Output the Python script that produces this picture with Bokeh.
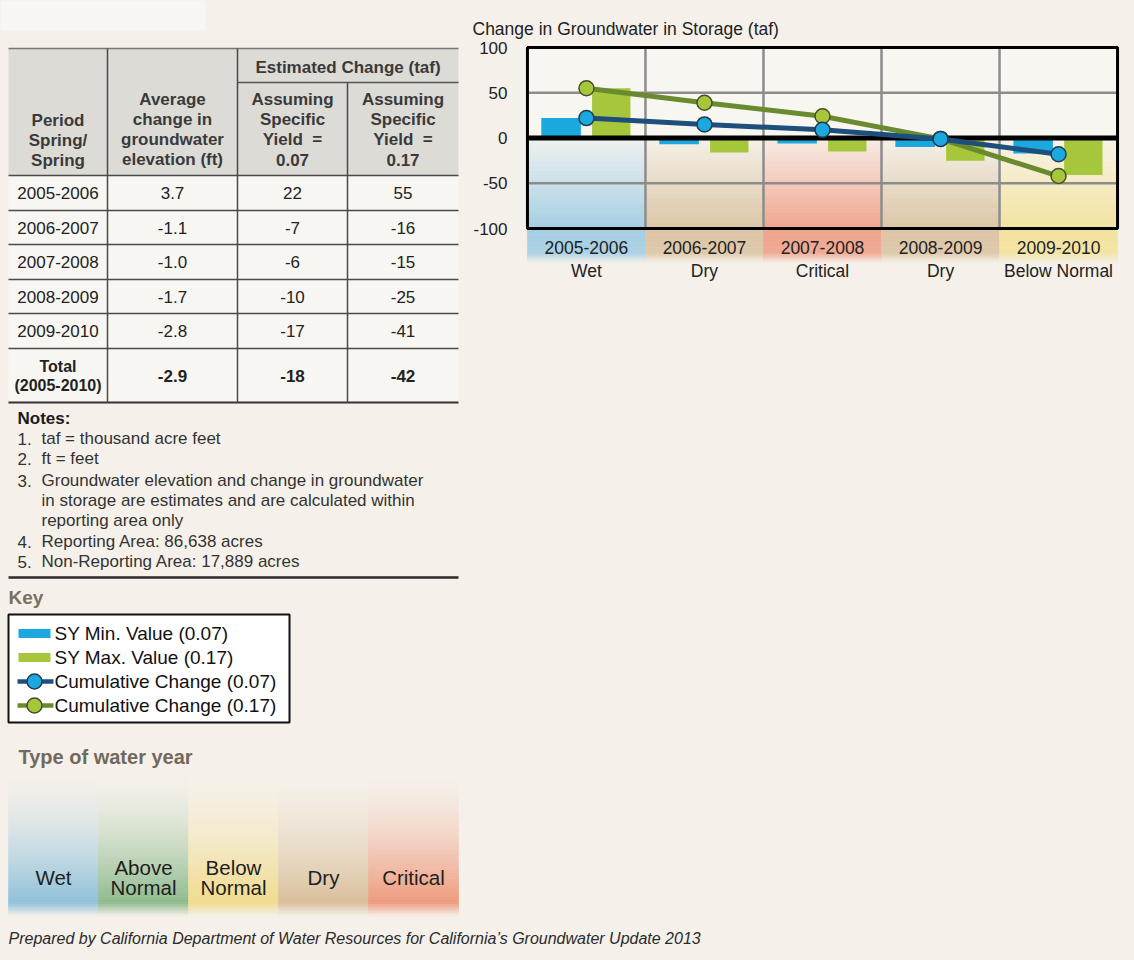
import numpy as np
from bokeh.plotting import figure
from bokeh.models import Range1d, FactorRange, FixedTicker, ColumnDataSource
from bokeh.layouts import row, column
from bokeh.transform import dodge
from bokeh.core.properties import value
from bokeh.embed import file_html
from bokeh.resources import INLINE

# ---------------- data ----------------
periods = ["2005-2006", "2006-2007", "2007-2008", "2008-2009", "2009-2010"]
year_types = ["Wet", "Dry", "Critical", "Dry", "Below Normal"]
elev_change_ft = [3.7, -1.1, -1.0, -1.7, -2.8]
sy_min_taf = [22, -7, -6, -10, -17]
sy_max_taf = [55, -16, -15, -25, -41]
cum_min_taf = [22, 15, 9, -1, -18]
cum_max_taf = [55, 39, 24, -1, -42]
total_period = ["Total", "(2005-2010)"]
total_values = ["-2.9", "-18", "-42"]
y_ticks = [-100, -50, 0, 50, 100]
y_tick_labels = {-100: "-100", -50: "-50", 0: "0", 50: "50", 100: "100"}
header_cells = [
    ["Period", "Spring/", "Spring"],
    ["Average", "change in", "groundwater", "elevation (ft)"],
    ["Assuming", "Specific", "Yield\u00a0\u00a0=", "0.07"],
    ["Assuming", "Specific", "Yield\u00a0\u00a0=", "0.17"],
]
header_group = "Estimated Change (taf)"
notes_title = "Notes:"
notes = [
    ("1.", "taf = thousand acre feet"),
    ("2.", "ft = feet"),
    ("3.", "Groundwater elevation and change in groundwater"),
    ("", "in storage are estimates and are calculated within"),
    ("", "reporting area only"),
    ("4.", "Reporting Area: 86,638 acres"),
    ("5.", "Non-Reporting Area: 17,889 acres"),
]
key_labels = ["SY Min. Value (0.07)", "SY Max. Value (0.17)",
              "Cumulative Change (0.07)", "Cumulative Change (0.17)"]
water_year_types = ["Wet", "Above Normal", "Below Normal", "Dry", "Critical"]
chart_title = "Change in Groundwater in Storage (taf)"
footer = "Prepared by California Department of Water Resources for California\u2019s Groundwater Update 2013"

# ---------------- style ----------------
BG = "#f5f1ea"
LIGHT = "#f8f6f1"
BLUE = "#1ba8de"
GREEN = "#a6c63c"
NAVY = "#1e4f7c"
OLIVE = "#6a8a2f"
SANS = "Liberation Sans"
type_colors = {"Wet": "#8fc0db", "Above Normal": "#8dba8d", "Below Normal": "#f1db8c",
               "Dry": "#d9bf9a", "Critical": "#ee997c"}
chart_type_colors = {"Wet": "#a5cfe4", "Dry": "#dcc6a6", "Critical": "#f0a48e",
                     "Below Normal": "#f3e3a0"}


def hex2rgb(h):
    h = h.lstrip("#")
    return tuple(int(h[i:i + 2], 16) for i in (0, 2, 4))


def mix(c1, c2, t):
    a, b = hex2rgb(c1), hex2rgb(c2)
    t = max(0.0, min(1.0, t))
    return "#%02x%02x%02x" % tuple(int(round(a[k] + (b[k] - a[k]) * t)) for k in range(3))


def strips(left, right, y0, y1, t0, t1, base, col, n=30, gamma=1.0):
    out = dict(left=[], right=[], top=[], bottom=[], color=[])
    for k in range(n):
        ya = y0 + (y1 - y0) * k / n
        yb = y0 + (y1 - y0) * (k + 1) / n
        tm = (k + 0.5) / n
        t = t0 + (t1 - t0) * (tm ** gamma)
        out["left"].append(left)
        out["right"].append(right)
        out["top"].append(ya)
        out["bottom"].append(yb)
        out["color"].append(mix(base, col, t))
    return out


def merge(dicts):
    res = dict(left=[], right=[], top=[], bottom=[], color=[])
    for d in dicts:
        for k in res:
            res[k].extend(d[k])
    return res


def blank(fig):
    fig.axis.visible = False
    fig.grid.visible = False
    fig.outline_line_color = None
    fig.background_fill_color = BG
    fig.border_fill_color = BG


def txt(fig, x, y, s, size, style="normal", align="center", color="#222222"):
    fig.text(x=[x], y=[y], text=[s], text_align=align, text_baseline="middle",
             text_font=value(SANS), text_font_size=size, text_font_style=style,
             text_color=color)


# ================= LEFT PANEL =================
L = figure(width=466, height=920, x_range=Range1d(0, 466), y_range=Range1d(920, 0),
           output_backend="svg", toolbar_location=None, min_border=0)
blank(L)

L.quad(left=[0], right=[205], top=[0], bottom=[30], fill_color="#f8f6f2", line_color=None)

col_edges = [8, 107, 237, 347, 458]
row_edges = [175, 210, 244, 279, 313, 348, 402]
L.quad(left=[8], right=[458], top=[48], bottom=[175], fill_color="#dddbd6", line_color=None)
L.quad(left=[8], right=[458], top=[175], bottom=[402], fill_color="#f8f6f2", line_color=None)
L.segment(x0=[8], y0=[48], x1=[458], y1=[48], line_color="#777777", line_width=1.5)
L.segment(x0=[237], y0=[82], x1=[458], y1=[82], line_color="#555555", line_width=1.5)
L.segment(x0=[8] * 6, y0=row_edges[:-1], x1=[458] * 6, y1=row_edges[:-1],
          line_color="#4a4a4a", line_width=1.5)
L.segment(x0=[8], y0=[402], x1=[458], y1=[402], line_color="#333333", line_width=2)
L.segment(x0=[107, 237, 347], y0=[48, 48, 82], x1=[107, 237, 347], y1=[402, 402, 402],
          line_color="#4a4a4a", line_width=1.5)

col_centers = [(col_edges[i] + col_edges[i + 1]) / 2 for i in range(4)]
hdr_ys = {3: [120, 140, 160], 4: [99, 119, 139, 159]}
for ci, lines in enumerate(header_cells):
    ys = hdr_ys[len(lines)]
    for s, y in zip(lines, ys):
        txt(L, col_centers[ci], y, s, "17px", style="bold", color="#3a3a3a")
txt(L, (237 + 458) / 2, 67, header_group, "17px", style="bold", color="#3a3a3a")

row_centers = [(row_edges[i] + row_edges[i + 1]) / 2 for i in range(5)]
for i in range(5):
    y = row_centers[i]
    txt(L, col_centers[0], y, periods[i], "17px")
    txt(L, col_centers[1], y, f"{elev_change_ft[i]:.1f}", "17px")
    txt(L, col_centers[2], y, f"{sy_min_taf[i]}", "17px")
    txt(L, col_centers[3], y, f"{sy_max_taf[i]}", "17px")
txt(L, col_centers[0], 366, total_period[0], "16px", style="bold")
txt(L, col_centers[0], 385, total_period[1], "16px", style="bold")
for ci, v in enumerate(total_values):
    txt(L, col_centers[ci + 1], 375, v, "17px", style="bold")

# notes
txt(L, 17, 418, notes_title, "17px", style="bold", align="left", color="#1a1a1a")
note_ys = [438, 458, 480, 500, 520, 541, 561]
for (num, s), y in zip(notes, note_ys):
    if num:
        txt(L, 17, y, num, "17px", align="left", color="#333333")
    txt(L, 41, y, s, "17px", align="left", color="#333333")
L.segment(x0=[8], y0=[577], x1=[458], y1=[577], line_color="#2a2a2a", line_width=2.5)

# key
txt(L, 8, 597, "Key", "19px", style="bold", align="left", color="#7b6f60")
L.quad(left=[8], right=[289], top=[614], bottom=[722], fill_color="white",
       line_color="#111111", line_width=2)
key_ys = [633, 657, 681, 705]
L.quad(left=[18, 18], right=[50, 50], top=[key_ys[0] - 4.5, key_ys[1] - 4.5],
       bottom=[key_ys[0] + 4.5, key_ys[1] + 4.5], fill_color=[BLUE, GREEN], line_color=None)
L.segment(x0=[17, 17], y0=key_ys[2:], x1=[53, 53], y1=key_ys[2:],
          line_color=[NAVY, OLIVE], line_width=4.5)
L.scatter(x=[34, 34], y=key_ys[2:], size=15, fill_color=[BLUE, GREEN],
          line_color=["#24394d", "#44502a"], line_width=1.5)
for s, y in zip(key_labels, key_ys):
    txt(L, 54, y, s, "19px", align="left", color="#111111")

# type of water year
txt(L, 18, 756, "Type of water year", "20px", style="bold", align="left", color="#72695c")
wy_parts = []
for i, t in enumerate(water_year_types):
    x0, x1 = 8 + 90 * i, 8 + 90 * (i + 1)
    wy_parts.append(strips(x0, x1, 770, 902, 0.0, 1.0, BG, type_colors[t], n=44, gamma=1.6))
    wy_parts.append(strips(x0, x1, 902, 916, 1.0, 0.0, BG, type_colors[t], n=8))
wy = merge(wy_parts)
L.quad(left="left", right="right", top="top", bottom="bottom", fill_color="color",
       line_color="color", line_width=0.6, source=ColumnDataSource(wy))
for i, t in enumerate(water_year_types):
    xc = 8 + 90 * i + 45
    words = t.split(" ")
    if len(words) == 1:
        txt(L, xc, 877, t, "20.5px", color="#1e1e1e")
    else:
        txt(L, xc, 867, words[0], "20.5px", color="#1e1e1e")
        txt(L, xc, 887, words[1], "20.5px", color="#1e1e1e")

# ================= CHART (right column) =================
PX = 181.0 / 200.0              # pixels per taf on the value axis
FRAME_TOP, FRAME_BOT = 44, 292  # frame extent in page pixels (chart spans 47..228)
y_end = 100 + (47 - FRAME_TOP) / PX
y_start = -100 - (FRAME_BOT - 228) / PX


def below(pix):
    """value-axis coordinate that sits at page pixel row `pix` under the -100 line"""
    return -100 - (pix - 228) / PX


src = ColumnDataSource(dict(period=periods, sy_min=sy_min_taf, sy_max=sy_max_taf,
                            cum_min=cum_min_taf, cum_max=cum_max_taf))
xr = FactorRange(*periods, range_padding=0.025, range_padding_units="absolute")
p = figure(width=668, height=920, x_range=xr, y_range=Range1d(y_start, y_end),
           output_backend="svg", toolbar_location=None, title=chart_title,
           min_border_left=58, min_border_right=14, min_border_top=FRAME_TOP,
           min_border_bottom=920 - FRAME_BOT)
p.title.align = "left"
p.title.offset = -52
p.title.standoff = 11
p.title.text_font = SANS
p.title.text_font_size = "17.5px"
p.title.text_font_style = "normal"
p.title.text_color = "#222222"
p.background_fill_color = BG
p.border_fill_color = BG
p.outline_line_color = None
p.grid.visible = False
p.xaxis.visible = False
p.yaxis.ticker = FixedTicker(ticks=y_ticks)
p.yaxis.major_label_overrides = y_tick_labels
p.yaxis.axis_line_color = None
p.yaxis.major_tick_line_color = None
p.yaxis.minor_tick_line_color = None
p.yaxis.major_label_standoff = 11
p.yaxis.major_label_text_font = SANS
p.yaxis.major_label_text_font_size = "17px"
p.yaxis.major_label_text_color = "#222222"

# plot-area backgrounds: light above zero, water-year gradient below zero
p.quad(left=[0], right=[5], top=[100], bottom=[0], fill_color=LIGHT, line_color=None)
bg_parts = []
for i, t in enumerate(year_types):
    bg_parts.append(strips(i, i + 1, 0, -100, 0.1, 1.0, LIGHT, chart_type_colors[t], n=40))
    # coloured label band under the axis
    bg_parts.append(strips(i, i + 1, -100, below(253), 1.0, 0.92, BG, chart_type_colors[t], n=4))
    bg_parts.append(strips(i, i + 1, below(253), below(263), 0.92, 0.0, BG,
                           chart_type_colors[t], n=10))
bgd = merge(bg_parts)
p.quad(left="left", right="right", top="top", bottom="bottom", fill_color="color",
       line_color="color", line_width=0.6, source=ColumnDataSource(bgd))

# grid
p.segment(x0=[0, 0], y0=[-50, 50], x1=[5, 5], y1=[-50, 50], line_color="#8c8c8c", line_width=2.5)
p.segment(x0=[1, 2, 3, 4], y0=[-100] * 4, x1=[1, 2, 3, 4], y1=[100] * 4,
          line_color="#8c8c8c", line_width=2.5)

# bars
p.vbar(x=dodge("period", -0.215, range=xr), top="sy_min", bottom=0, width=0.335,
       fill_color=BLUE, line_color=None, source=src)
p.vbar(x=dodge("period", 0.21, range=xr), top="sy_max", bottom=0, width=0.325,
       fill_color=GREEN, line_color=None, source=src)

# zero line and chart border
p.segment(x0=[0], y0=[0], x1=[5], y1=[0], line_color="#000000", line_width=5)
p.quad(left=[0], right=[5], top=[100], bottom=[-100], fill_color=None,
       line_color="#000000", line_width=3)

# cumulative lines
p.line(x="period", y="cum_max", line_color=OLIVE, line_width=5, source=src)
p.scatter(x="period", y="cum_max", size=15, fill_color=GREEN, line_color="#44502a",
          line_width=1.5, source=src)
p.line(x="period", y="cum_min", line_color=NAVY, line_width=5, source=src)
p.scatter(x="period", y="cum_min", size=15, fill_color=BLUE, line_color="#24394d",
          line_width=1.5, source=src)

# category labels (period / water-year type)
p.text(x=periods, y=[below(247)] * 5, text=periods, text_align="center",
       text_baseline="middle", text_font=value(SANS), text_font_size="17.5px",
       text_color="#222222")
p.text(x=periods, y=[below(270)] * 5, text=year_types, text_align="center",
       text_baseline="middle", text_font=value(SANS), text_font_size="17.5px",
       text_color="#222222")

# ----- footer strip -----
F = figure(width=1134, height=40, x_range=Range1d(0, 1134), y_range=Range1d(960, 920),
           output_backend="svg", toolbar_location=None, min_border=0)
blank(F)
txt(F, 8, 938, footer, "16px", style="italic", align="left", color="#2a2a2a")

layout = column(row(column(L, spacing=0), column(p, spacing=0), spacing=0), F, spacing=0)
layout.background = BG
open("out.html", "w").write(file_html(layout, INLINE))
